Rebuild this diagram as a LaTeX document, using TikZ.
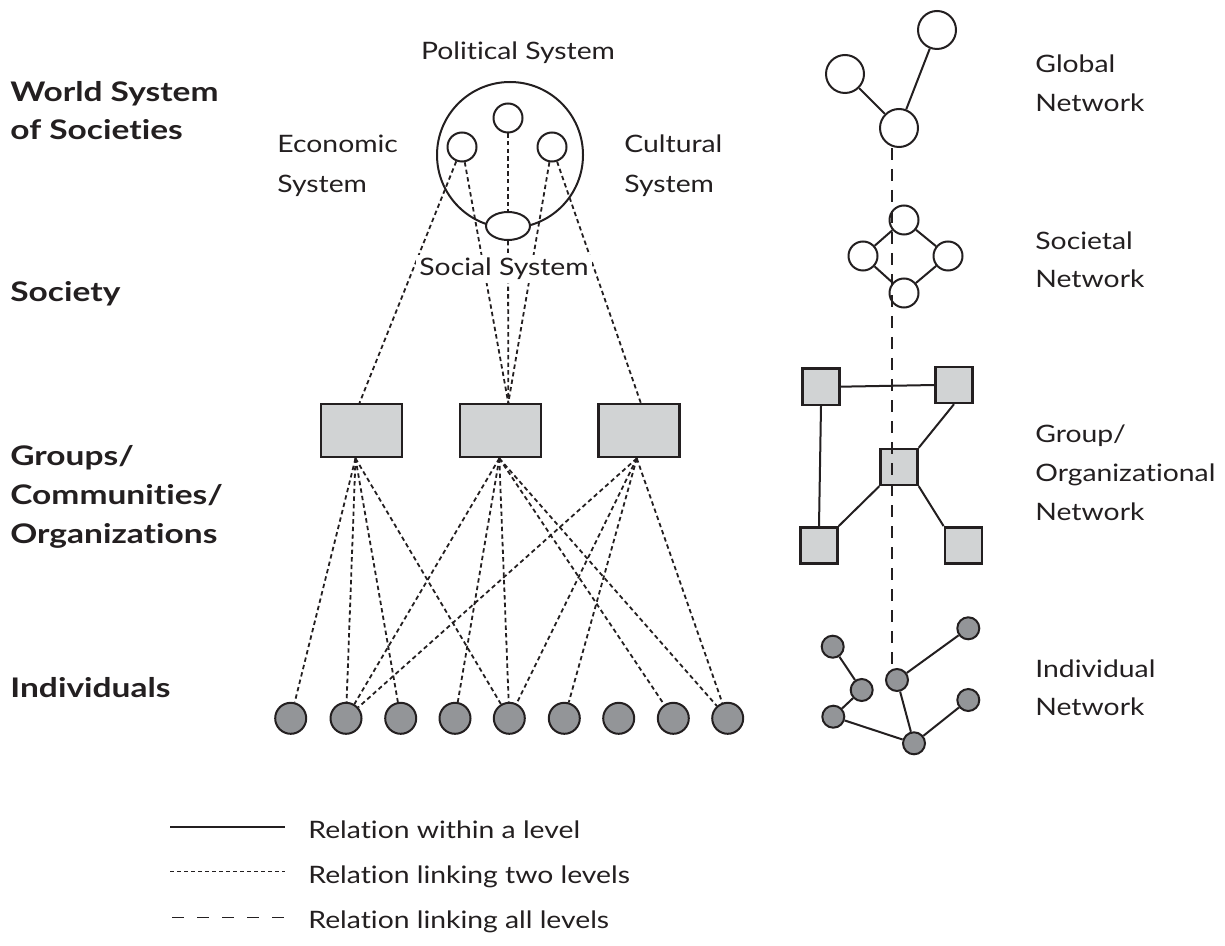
\documentclass[tikz,border=0pt]{standalone}
\usepackage{fontspec}
\setmainfont{Lato}[FakeStretch=1.18,Ligatures=NoCommon]
\newfontfamily\levelfont{Lato}[FakeStretch=1.24,Ligatures=NoCommon]
\usetikzlibrary{shapes.geometric}
\definecolor{ink}{HTML}{231F20}
\definecolor{boxgray}{HTML}{D1D3D4}
\definecolor{dotgray}{HTML}{939598}
\begin{document}
\begin{tikzpicture}[x=0.5pt,y=-0.5pt,
  lbl/.style={anchor=base west,inner sep=0,text=ink,font=\fontsize{12}{14}\selectfont},
  lvl/.style={anchor=base west,inner sep=0,text=ink,font=\levelfont\fontsize{13.5}{16}\selectfont\bfseries},
  sysnode/.style={circle,draw=ink,line width=1pt,fill=white,minimum size=14.5pt,inner sep=0},
  grpbox/.style={rectangle,draw=ink,line width=1.2pt,fill=boxgray,minimum width=40.5pt,minimum height=26.5pt,inner sep=0},
  indnode/.style={circle,draw=ink,line width=1pt,fill=dotgray,minimum size=15.5pt,inner sep=0},
  glob/.style={circle,draw=ink,line width=1pt,fill=white,minimum size=19pt,inner sep=0},
  socn/.style={circle,draw=ink,line width=1pt,fill=white,minimum size=14.5pt,inner sep=0},
  sqn/.style={rectangle,draw=ink,line width=1.2pt,fill=boxgray,minimum width=18.5pt,minimum height=18pt,inner sep=0},
  indn/.style={circle,draw=ink,line width=1pt,fill=dotgray,minimum size=11pt,inner sep=0},
  within/.style={draw=ink,line width=1pt},
  twolev/.style={draw=ink,line width=0.9pt,dash pattern=on 2.2pt off 1.6pt},
  alllev/.style={draw=ink,line width=1pt,dash pattern=on 6pt off 4.5pt}
]
\useasboundingbox (0,0) rectangle (1225,946);

% level labels
\node[lvl] (lw1) at (10,102) {World System};
\node[lvl] (lw2) at (10,140) {of Societies};
\node[lvl] (ls) at (10,302) {Society};
\node[lvl] (lg1) at (10,465) {Groups/};
\node[lvl] (lg2) at (10,504) {Communities/};
\node[lvl] (lg3) at (10,543) {Organizations};
\node[lvl] (li) at (10,697) {Individuals};

% system labels
\node[lbl,anchor=base] (tpol) at (518,60) {Political System};
\node[lbl] (te1) at (277,153) {Economic};
\node[lbl] (te2) at (277,193) {System};
\node[lbl] (tc1) at (624,153) {Cultural};
\node[lbl] (tc2) at (624,193) {System};

% world system
\node[circle,draw=ink,line width=1pt,minimum size=73pt,inner sep=0] (world) at (510,155) {};

% groups and individuals
\node[grpbox] (r1) at (361.5,430.7) {};
\node[grpbox] (r2) at (500.3,430.7) {};
\node[grpbox] (r3) at (638.8,430.7) {};
\foreach \i/\x in {1/290.7,2/346,3/400.7,4/455,5/509.3,6/564.3,7/618.7,8/673.3,9/727.7}
  \node[indnode] (i\i) at (\x,718.3) {};

\coordinate (r1t) at ([xshift=-1pt]r1.north);
\coordinate (r2t) at ([xshift=4pt]r2.north);
\coordinate (r3t) at ([xshift=1pt]r3.north);
\coordinate (r1b) at ([xshift=-3pt]r1.south);
\coordinate (r2b) at ([xshift=-0.5pt]r2.south);
\coordinate (r3b) at ([xshift=-1pt]r3.south);

% subsystems
\node[sysnode] (pol) at (508,118) {};
\node[sysnode] (eco) at (462,147) {};
\node[sysnode] (cul) at (552,147) {};
\node[ellipse,draw=ink,line width=1pt,fill=white,minimum width=22pt,minimum height=14pt,inner sep=0] (soc) at (508,226) {};

\draw[twolev] (eco) -- (r1t);
\draw[twolev] (eco) -- (r2t);
\draw[twolev] (pol) -- (soc);
\draw[twolev] (soc) -- (r2t);
\draw[twolev] (cul) -- (r2t);
\draw[twolev] (cul) -- (r3t);

\node[lbl,anchor=base,fill=white,inner sep=1.5pt] (tsoc) at (504,276) {Social System};

\foreach \j in {1,2,3,5} \draw[twolev] (r1b) -- (i\j);
\foreach \j in {2,4,5,8,9} \draw[twolev] (r2b) -- (i\j);
\foreach \j in {2,5,6,9} \draw[twolev] (r3b) -- (i\j);

% global network
\node[glob] (ga) at (845,74) {};
\node[glob] (gb) at (937,30) {};
\node[glob] (gc) at (899,128) {};
\draw[within] (ga) -- (gc);
\draw[within] (gb) -- (gc);

% societal network
\node[socn] (st) at (904,220) {};
\node[socn] (sl) at (863,256) {};
\node[socn] (sr) at (948,256) {};
\node[socn] (sb) at (904,293) {};
\draw[within] (st) -- (sl);
\draw[within] (st) -- (sr);
\draw[within] (sl) -- (sb);
\draw[within] (sr) -- (sb);

% group network
\node[sqn] (qtl) at (821,386.7) {};
\node[sqn] (qtr) at (954,385) {};
\node[sqn] (qm) at (899,467) {};
\node[sqn] (qbl) at (819,545.3) {};
\node[sqn] (qbr) at (963.3,545.3) {};
\draw[within] (qtl.east) -- (qtr.west);
\draw[within] (qtl.south) -- (qbl.north);
\draw[within] (qtr.south) -- (qm.north east);
\draw[within] (qm.south west) -- (qbl.north east);
\draw[within] (qm.south east) -- (qbr.north west);

% individual network
\node[indn] (nd) at (897,680) {};
\node[indn] (na) at (832.7,646.7) {};
\node[indn] (nb) at (861.7,690) {};
\node[indn] (nc) at (833.3,716.7) {};
\node[indn] (ne) at (914,743.3) {};
\node[indn] (nf) at (968.3,628.3) {};
\node[indn] (ng) at (968.3,700) {};
\draw[within] (na) -- (nb);
\draw[within] (nb) -- (nc);
\draw[within] (nc) -- (ne);
\draw[within] (nd) -- (ne);
\draw[within] (nd) -- (nf);
\draw[within] (ne) -- (ng);

% linking all levels
\draw[alllev] ([xshift=-3.5pt]gc.south) -- ([xshift=-3.5pt]gc.south |- nd.north);

% network labels
\node[lbl] (ng1) at (1035,73) {Global};
\node[lbl] (ng2) at (1035,112) {Network};
\node[lbl] (ns1) at (1035,250) {Societal};
\node[lbl] (ns2) at (1035,288) {Network};
\node[lbl] (no1) at (1035,442) {Group/};
\node[lbl] (no2) at (1035,481) {Organizational};
\node[lbl] (no3) at (1035,520) {Network};
\node[lbl] (ni1) at (1035,677) {Individual};
\node[lbl] (ni2) at (1035,715) {Network};

% legend
\coordinate (k1a) at (170,826.7);
\coordinate (k1b) at (285,826.7);
\coordinate (k2a) at (170,871.7);
\coordinate (k2b) at (285,871.7);
\coordinate (k3a) at (172,917.3);
\coordinate (k3b) at (285,917.3);
\draw[within,line width=0.8pt] (k1a) -- (k1b);
\draw[twolev,line width=0.6pt,dash pattern=on 2pt off 1.5pt] (k2a) -- (k2b);
\draw[draw=ink,line width=0.7pt,dash pattern=on 6pt off 6.5pt] (k3a) -- (k3b);
\node[lbl] (kt1) at (308,838) {Relation within a level};
\node[lbl] (kt2) at (308,883) {Relation linking two levels};
\node[lbl] (kt3) at (308,928) {Relation linking all levels};
\end{tikzpicture}
\end{document}
